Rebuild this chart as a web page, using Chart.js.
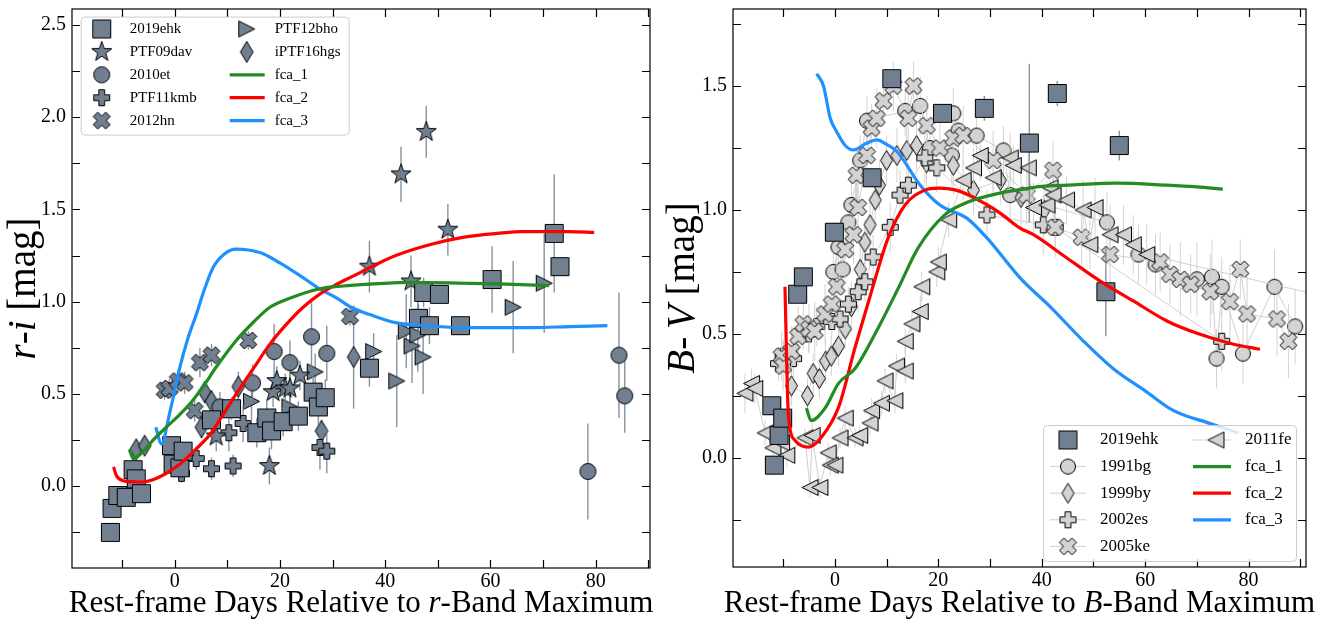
<!DOCTYPE html>
<html>
<head>
<meta charset="utf-8">
<script src="https://cdn.jsdelivr.net/npm/chart.js@4.4.1/dist/chart.umd.min.js"></script>
<style>
  html, body { margin: 0; padding: 0; background: #fff; }
  #wrap { position: relative; width: 1325px; height: 621px; }
  #wrap canvas { position: absolute; top: 0; }
  #riChart { left: 0; }
  #bvChart { left: 662px; }
</style>
</head>
<body>
<div id="wrap">
  <canvas id="riChart" width="662" height="621"></canvas>
  <canvas id="bvChart" width="663" height="621"></canvas>
</div>
<script>
// ---- r-i colour curves ----
const riDays2019ehk = [-12.2, -11.9, -10.8, -9.2, -7.9, -7.3, -6.3, -0.6, -0.3, 1.0, 1.6, 7.0, 10.8, 15.6, 17.5, 18.4, 20.6, 23.5, 26.3, 27.3, 28.6, 37.0, 46.3, 47.3, 48.4, 50.3, 54.3, 60.3, 72.1, 73.2];
const ri2019ehk = [-0.25, -0.12, -0.05, -0.06, 0.09, 0.04, -0.04, 0.22, 0.12, 0.10, 0.19, 0.36, 0.42, 0.29, 0.37, 0.30, 0.35, 0.38, 0.51, 0.43, 0.48, 0.64, 0.91, 1.05, 0.87, 1.04, 0.87, 1.12, 1.37, 1.19];
const riErr2019ehk = [0.03, 0.03, 0.03, 0.03, 0.03, 0.03, 0.03, 0.04, 0.04, 0.04, 0.04, 0.06, 0.06, 0.08, 0.1, 0.1, 0.08, 0.08, 0.1, 0.1, 0.1, 0.1, 0.08, 0.08, 0.1, 0.05, 0.05, 0.18, 0.32, 0.05];

const riDaysPTF09dav = [7.9, 18.0, 18.7, 19.4, 21.0, 21.9, 23.8, 37.0, 43.0, 44.9, 47.8, 51.9];
const riPTF09dav = [0.27, 0.11, 0.51, 0.57, 0.53, 0.53, 0.60, 1.19, 1.69, 1.11, 1.92, 1.39];
const riErrPTF09dav = [0.08, 0.1, 0.08, 0.08, 0.08, 0.08, 0.08, 0.14, 0.15, 0.14, 0.14, 0.14];

const riDays2010et = [8.6, 14.8, 18.9, 21.9, 26.0, 28.9, 78.5, 84.4, 85.5];
const ri2010et = [0.43, 0.56, 0.73, 0.67, 0.81, 0.72, 0.08, 0.71, 0.49];
const riErr2010et = [0.08, 0.1, 0.15, 0.12, 0.2, 0.15, 0.26, 0.34, 0.2];

const riDaysPTF11kmb = [1.3, 4.1, 7.0, 10.3, 11.1, 13.0, 27.6, 28.9];
const riPTF11kmb = [0.07, 0.15, 0.095, 0.29, 0.11, 0.34, 0.21, 0.19];
const riErrPTF11kmb = [0.05, 0.06, 0.06, 0.1, 0.06, 0.1, 0.12, 0.12];

const riDays2012hn = [-1.9, -1.0, 0.6, 1.9, 3.8, 4.8, 7.0, 14.0, 33.3];
const ri2012hn = [0.52, 0.53, 0.57, 0.56, 0.41, 0.67, 0.71, 0.79, 0.92];
const riErr2012hn = [0.05, 0.05, 0.06, 0.06, 0.06, 0.08, 0.06, 0.05, 0.05];

const riDaysPTF12bho = [14.6, 21.9, 26.7, 37.8, 42.2, 44.0, 45.1, 46.2, 47.2, 64.3, 70.2];
const riPTF12bho = [0.46, 0.43, 0.62, 0.73, 0.57, 0.84, 0.76, 0.82, 0.70, 0.97, 1.10];
const riErrPTF12bho = [0.1, 0.1, 0.1, 0.1, 0.25, 0.2, 0.2, 0.2, 0.2, 0.25, 0.27];

const riDaysIPTF16hgs = [-7.3, -5.7, 5.1, 5.7, 7.0, 12.1, 27.9, 34.0];
const riIPTF16hgs = [0.20, 0.22, 0.32, 0.51, 0.46, 0.54, 0.30, 0.70];
const riErrIPTF16hgs = [0.03, 0.03, 0.06, 0.06, 0.06, 0.08, 0.06, 0.28];

const riFca1Days = [-8.6, -7.9, -6.3, -4.1, -1.6, 1.0, 3.0, 5.4, 8.0, 11.7, 15.0, 18.1, 22.0, 27.6, 32.0, 37.1, 45.0, 55.0, 63.0, 71.1];
const riFca1 = [0.20, 0.15, 0.18, 0.25, 0.32, 0.39, 0.45, 0.54, 0.65, 0.79, 0.89, 0.97, 1.02, 1.07, 1.085, 1.095, 1.105, 1.10, 1.095, 1.087];
const riFca2Days = [-11.6, -11.1, -9.8, -8.0, -6.0, -2.9, 1.0, 4.0, 6.7, 9.0, 11.7, 15.0, 18.1, 21.0, 24.4, 27.5, 30.8, 34.0, 37.1, 42.0, 48.6, 55.0, 61.3, 66.0, 70.8, 75.0, 79.7];
const riFca2 = [0.105, 0.06, 0.03, 0.025, 0.023, 0.05, 0.12, 0.20, 0.28, 0.38, 0.50, 0.64, 0.77, 0.87, 0.97, 1.04, 1.095, 1.14, 1.185, 1.25, 1.31, 1.35, 1.37, 1.38, 1.38, 1.38, 1.375];
const riFca3Days = [-3.6, -2.5, -1.0, 1.0, 2.5, 4.1, 5.7, 7.3, 9.5, 11.7, 14.0, 16.8, 20.0, 24.4, 27.5, 30.8, 33.5, 37.1, 42.2, 48.0, 54.9, 61.0, 67.6, 75.0, 82.2];
const riFca3 = [0.32, 0.23, 0.39, 0.645, 0.80, 0.93, 1.07, 1.185, 1.26, 1.285, 1.28, 1.26, 1.21, 1.13, 1.07, 1.02, 0.97, 0.93, 0.885, 0.87, 0.86, 0.86, 0.86, 0.865, 0.87];

// ---- B-V colour curves ----
const bvDays2019ehk = [-12.2, -11.7, -10.8, -10.1, -7.2, -6.1, -0.1, 7.2, 11.0, 20.8, 28.9, 37.6, 43.0, 52.4, 55.0];
const bv2019ehk = [0.21, -0.03, 0.09, 0.16, 0.66, 0.73, 0.91, 1.13, 1.53, 1.39, 1.41, 1.27, 1.47, 0.67, 1.26];
const bvErr2019ehk = [0.02, 0.02, 0.02, 0.02, 0.02, 0.02, 0.02, 0.03, 0.03, 0.03, 0.05, 0.32, 0.05, 0.18, 0.06];

const bvDays1991bg = [-0.3, 0.7, 1.5, 2.6, 3.2, 4.9, 6.2, 13.6, 16.5, 18.4, 22.6, 22.9, 23.9, 27.4, 32.6, 33.9, 52.6, 58.7, 62.0, 70.0, 72.9, 73.8, 74.8, 78.9, 85.0, 89.0];
const bv1991bg = [0.75, 0.85, 0.76, 0.95, 1.02, 1.20, 1.36, 1.40, 1.42, 1.25, 1.22, 1.39, 1.32, 1.30, 1.24, 1.06, 0.95, 0.82, 0.78, 0.72, 0.73, 0.40, 0.69, 0.42, 0.69, 0.53];
const bvErr1991bg = [0.1, 0.1, 0.1, 0.1, 0.12, 0.1, 0.1, 0.1, 0.12, 0.1, 0.12, 0.1, 0.1, 0.1, 0.1, 0.1, 0.12, 0.12, 0.12, 0.15, 0.15, 0.12, 0.12, 0.12, 0.15, 0.15];

const bvDays1999by = [-8.4, -5.3, -4.2, -3.0, -1.8, -0.7, 0.7, 2.0, 3.2, 4.9, 5.8, 6.8, 7.8, 8.6, 10.0, 12.0, 13.9, 15.8, 17.7, 22.9, 26.8, 32.0, 36.0, 40.5];
const bv1999by = [0.29, 0.25, 0.34, 0.32, 0.39, 0.41, 0.45, 0.52, 0.61, 0.76, 0.87, 0.94, 1.04, 1.10, 1.20, 1.22, 1.24, 1.26, 1.19, 1.18, 1.08, 1.12, 1.05, 1.00];
const bvErr1999by = [0.08, 0.07, 0.08, 0.08, 0.09, 0.08, 0.08, 0.08, 0.1, 0.1, 0.09, 0.1, 0.1, 0.1, 0.1, 0.11, 0.1, 0.1, 0.1, 0.12, 0.1, 0.1, 0.12, 0.1];

const bvDays2002es = [-10.9, -10.0, -8.0, -5.1, -3.5, -0.6, 1.0, 2.6, 4.5, 5.8, 7.4, 10.7, 12.6, 14.2, 17.4, 19.7, 29.4, 40.3, 42.6, 74.8];
const bv2002es = [0.38, 0.41, 0.40, 0.50, 0.53, 0.55, 0.56, 0.62, 0.67, 0.71, 0.81, 0.93, 1.06, 1.10, 1.21, 1.17, 0.98, 0.94, 0.93, 0.47];
const bvErr2002es = [0.07, 0.07, 0.08, 0.07, 0.08, 0.07, 0.08, 0.07, 0.08, 0.08, 0.09, 0.1, 0.1, 0.09, 0.1, 0.1, 0.1, 0.12, 0.12, 0.12];

const bvDays2005ke = [-10.3, -10.0, -8.4, -7.1, -6.1, -5.0, -3.9, -1.9, -0.6, 0.35, 2.0, 3.6, 4.2, 4.5, 6.2, 7.1, 8.1, 9.4, 11.3, 14.2, 15.2, 17.8, 20.3, 22.9, 24.8, 30.6, 37.1, 42.2, 42.6, 47.7, 53.2, 62.9, 64.8, 66.8, 68.8, 72.6, 76.4, 78.4, 79.7, 85.5, 87.7];
const bv2005ke = [0.41, 0.37, 0.43, 0.49, 0.54, 0.52, 0.51, 0.58, 0.62, 0.69, 0.84, 0.90, 1.14, 1.01, 1.22, 1.33, 1.37, 1.44, 1.50, 1.37, 1.50, 1.34, 1.25, 1.29, 1.30, 1.20, 1.06, 1.16, 0.93, 0.89, 0.82, 0.79, 0.74, 0.72, 0.70, 0.67, 0.63, 0.76, 0.58, 0.56, 0.47];
const bvErr2005ke = [0.1, 0.1, 0.1, 0.12, 0.1, 0.1, 0.12, 0.12, 0.1, 0.12, 0.12, 0.12, 0.1, 0.12, 0.12, 0.1, 0.12, 0.1, 0.1, 0.12, 0.1, 0.12, 0.12, 0.1, 0.12, 0.12, 0.12, 0.12, 0.1, 0.12, 0.12, 0.12, 0.12, 0.15, 0.12, 0.15, 0.15, 0.12, 0.15, 0.15, 0.15];

const bvDays2011fe = [-17.4, -16.1, -15.5, -13.5, -12.0, -10.3, -9.3, -5.8, -4.8, -4.4, -2.9, -1.3, -0.9, 0.0, 1.0, 2.0, 3.9, 4.8, 6.8, 7.1, 9.0, 9.7, 11.6, 11.9, 13.6, 13.6, 14.9, 16.5, 16.8, 19.7, 20.0, 22.0, 24.8, 26.8, 28.1, 30.6, 33.9, 34.5, 37.4, 38.4, 41.0, 41.6, 42.2, 44.8, 48.0, 49.3, 50.3, 53.2, 55.8, 57.7, 60.3, 105.0];
const bv2011fe = [0.26, 0.30, 0.28, 0.10, 0.04, 0.06, 0.01, 0.08, -0.12, 0.09, -0.12, 0.02, -0.03, -0.03, 0.08, 0.16, 0.08, 0.09, 0.14, 0.19, 0.22, 0.31, 0.23, 0.37, 0.35, 0.47, 0.54, 0.59, 0.69, 0.75, 0.79, 0.96, 1.12, 1.17, 1.22, 1.13, 1.21, 1.18, 1.17, 1.01, 1.02, 1.09, 1.06, 1.04, 1.00, 0.86, 1.01, 0.90, 0.90, 0.86, 0.82, 0.60];
const bvErr2011fe = [0.08, 0.06, 0.06, 0.05, 0.05, 0.05, 0.05, 0.04, 0.04, 0.05, 0.04, 0.04, 0.04, 0.04, 0.04, 0.05, 0.04, 0.04, 0.05, 0.05, 0.05, 0.05, 0.05, 0.05, 0.05, 0.05, 0.06, 0.06, 0.06, 0.06, 0.06, 0.07, 0.08, 0.08, 0.1, 0.08, 0.1, 0.08, 0.1, 0.1, 0.1, 0.1, 0.1, 0.1, 0.12, 0.1, 0.12, 0.12, 0.12, 0.12, 0.12, 0.1];

const bvFca1Days = [-5.5, -4.6, -1.9, 0.7, 3.9, 8.4, 12.3, 16.1, 21.3, 25.5, 31.9, 35.8, 40.0, 45.0, 54.5, 64.2, 70.0, 75.0];
const bvFca1 = [0.20, 0.15, 0.20, 0.30, 0.36, 0.525, 0.686, 0.847, 0.981, 1.03, 1.068, 1.082, 1.095, 1.10, 1.108, 1.10, 1.093, 1.084];
const bvFca2Days = [-9.65, -9.0, -7.7, -5.1, -2.6, 0.7, 3.9, 7.1, 10.3, 13.6, 17.4, 20.0, 24.2, 29.4, 31.9, 35.8, 38.4, 44.8, 51.3, 57.7, 64.2, 70.6, 77.1, 82.2];
const bvFca2 = [0.69, 0.177, 0.07, 0.043, 0.083, 0.203, 0.445, 0.673, 0.887, 1.021, 1.08, 1.088, 1.075, 1.021, 0.988, 0.927, 0.90, 0.807, 0.713, 0.633, 0.552, 0.498, 0.458, 0.438];
const bvFca3Days = [-3.5, -2.2, -0.9, 0.35, 2.0, 3.6, 6.2, 8.1, 10.0, 12.0, 16.5, 20.3, 25.5, 29.4, 35.8, 41.8, 48.0, 53.9, 60.0, 65.5, 72.6, 78.0];
const bvFca3 = [1.55, 1.50, 1.37, 1.316, 1.26, 1.242, 1.27, 1.283, 1.265, 1.236, 1.10, 1.02, 0.967, 0.887, 0.726, 0.606, 0.472, 0.358, 0.27, 0.19, 0.138, 0.10];

// axis ticks (every tick gets a mark, only some get a label)
const dayTicks = [-10, 0, 10, 20, 30, 40, 50, 60, 70, 80, 90];
const riTicks = [-0.25, 0, 0.25, 0.5, 0.75, 1, 1.25, 1.5, 1.75, 2, 2.25, 2.5];
const bvTicks = [-0.25, 0, 0.25, 0.5, 0.75, 1, 1.25, 1.5, 1.75];

const SERIF = '"Liberation Serif", "Times New Roman", serif';
Chart.defaults.font.family = SERIF;
Chart.defaults.color = '#000';

const SLATE = '#708090';
const LIGHT = '#d3d3d3';

// marker sprites used as pointStyle
function makeMarker(shape, size, fill) {
  const r = size / 2;
  const c = document.createElement('canvas');
  c.width = c.height = Math.ceil(size + 5);
  const g = c.getContext('2d');
  const m = c.width / 2;
  let pts = null;
  if (shape === 'square') pts = [[-r, -r], [r, -r], [r, r], [-r, r]];
  else if (shape === 'triRight') pts = [[r, 0], [-r, -r], [-r, r]];
  else if (shape === 'triLeft') pts = [[-r, 0], [r, -r], [r, r]];
  else if (shape === 'thinDiamond') pts = [[0, -r], [r * 0.6, 0], [0, r], [-r * 0.6, 0]];
  else if (shape === 'star') {
    pts = [];
    for (let i = 0; i < 10; i++) {
      const a = -Math.PI / 2 + i * Math.PI / 5;
      const rr = i % 2 ? r * 0.4 : r;
      pts.push([rr * Math.cos(a), rr * Math.sin(a)]);
    }
  } else if (shape === 'plus' || shape === 'cross') {
    const t = r * 0.36;
    pts = [[-t, -r], [t, -r], [t, -t], [r, -t], [r, t], [t, t], [t, r], [-t, r], [-t, t], [-r, t], [-r, -t], [-t, -t]];
    if (shape === 'cross') {
      const k = 1.1 * Math.SQRT1_2;
      pts = pts.map(([x, y]) => [(x - y) * k, (x + y) * k]);
    }
  }
  g.beginPath();
  if (shape === 'circle') g.arc(m, m, r, 0, Math.PI * 2);
  else pts.forEach(([x, y], i) => (i ? g.lineTo(m + x, m + y) : g.moveTo(m + x, m + y)));
  g.closePath();
  g.fillStyle = fill;
  g.fill();
  g.lineWidth = 1;
  g.strokeStyle = '#000';
  g.stroke();
  return c;
}

function pts(xs, ys) {
  return xs.map((x, i) => ({ x, y: ys[i] }));
}

function markerSet(label, xs, ys, errs, sprite, slot, extra) {
  return Object.assign({
    label, data: pts(xs, ys), errors: errs, errColor: 'rgba(112,128,144,0.85)', errWidth: 1.4,
    pointStyle: sprite, pointRadius: 8, pointHoverRadius: 8, showLine: false, slot, order: 2
  }, extra || {});
}

function compSet(label, xs, ys, errs, sprite, slot, order) {
  return {
    label, data: pts(xs, ys), errors: errs, errColor: 'rgba(200,200,200,0.8)', errWidth: 1,
    pointStyle: sprite, pointRadius: 8, pointHoverRadius: 8,
    showLine: true, borderColor: '#cfcfcf', borderWidth: 1, tension: 0, slot, order
  };
}

function curveSet(label, xs, ys, color, slot) {
  return {
    label, data: pts(xs, ys), showLine: true, borderColor: color, borderWidth: 3.2,
    pointRadius: 0, pointHoverRadius: 0, cubicInterpolationMode: 'monotone', slot, order: 0
  };
}

// vertical error bars drawn under each dataset's markers
const errorBars = {
  id: 'errorBars',
  beforeDatasetDraw(chart, args) {
    const ds = chart.data.datasets[args.index];
    if (!ds.errors) return;
    const { ctx, chartArea: a, scales: { x, y } } = chart;
    ctx.save();
    ctx.beginPath();
    ctx.rect(a.left, a.top, a.width, a.height);
    ctx.clip();
    ctx.strokeStyle = ds.errColor;
    ctx.lineWidth = ds.errWidth;
    ds.data.forEach((p, i) => {
      const e = ds.errors[i];
      if (!e) return;
      const px = x.getPixelForValue(p.x);
      ctx.beginPath();
      ctx.moveTo(px, y.getPixelForValue(p.y - e));
      ctx.lineTo(px, y.getPixelForValue(p.y + e));
      ctx.stroke();
    });
    ctx.restore();
  }
};

// closed frame with inward tick marks on all four sides
const frameTicks = {
  id: 'frameTicks',
  afterDatasetsDraw(chart) {
    const { ctx, chartArea: a, scales: { x, y } } = chart;
    const L = 8;
    ctx.save();
    ctx.strokeStyle = '#000';
    ctx.lineWidth = 1.2;
    ctx.beginPath();
    x.ticks.forEach(t => {
      const px = Math.round(x.getPixelForValue(t.value)) + 0.5;
      ctx.moveTo(px, a.bottom); ctx.lineTo(px, a.bottom - L);
      ctx.moveTo(px, a.top); ctx.lineTo(px, a.top + L);
    });
    y.ticks.forEach(t => {
      const py = Math.round(y.getPixelForValue(t.value)) + 0.5;
      ctx.moveTo(a.left, py); ctx.lineTo(a.left + L, py);
      ctx.moveTo(a.right, py); ctx.lineTo(a.right - L, py);
    });
    ctx.stroke();
    ctx.strokeRect(a.left, a.top, a.width, a.height);
    ctx.restore();
  }
};

function drawRich(ctx, parts, size, cx, cy, rot) {
  ctx.save();
  ctx.translate(cx, cy);
  ctx.rotate(rot);
  const fonts = parts.map(p => (p[1] ? 'italic ' : '') + size + 'px ' + SERIF);
  let total = 0;
  const widths = parts.map((p, i) => {
    ctx.font = fonts[i];
    const w = ctx.measureText(p[0]).width;
    total += w;
    return w;
  });
  let x = -total / 2;
  ctx.textBaseline = 'middle';
  ctx.textAlign = 'left';
  ctx.fillStyle = '#000';
  parts.forEach((p, i) => {
    ctx.font = fonts[i];
    ctx.fillText(p[0], x, 0);
    x += widths[i];
  });
  ctx.restore();
}

function axisTitles(cfg) {
  return {
    id: 'axisTitles',
    afterDraw(chart) {
      const { ctx, chartArea: a } = chart;
      drawRich(ctx, cfg.x, 31, (a.left + a.right) / 2, 604, 0);
      drawRich(ctx, cfg.y, 39, cfg.yX, (a.top + a.bottom) / 2, -Math.PI / 2);
    }
  };
}

// framed two-column legend placed inside the plot area
function boxLegend(cfg) {
  return {
    id: 'boxLegend',
    afterDraw(chart) {
      const { ctx, chartArea: a } = chart;
      const bx = a.left + cfg.x, by = a.top + cfg.y;
      ctx.save();
      ctx.beginPath();
      if (ctx.roundRect) ctx.roundRect(bx + 0.5, by + 0.5, cfg.w, cfg.h, 4);
      else ctx.rect(bx + 0.5, by + 0.5, cfg.w, cfg.h);
      ctx.fillStyle = 'rgba(255,255,255,0.8)';
      ctx.fill();
      ctx.strokeStyle = '#cccccc';
      ctx.lineWidth = 1;
      ctx.stroke();
      ctx.font = cfg.font + 'px ' + SERIF;
      ctx.textBaseline = 'middle';
      chart.data.datasets.forEach(ds => {
        if (!ds.slot) return;
        const c = cfg.cols[ds.slot[0]];
        const yy = by + cfg.row0 + ds.slot[1] * cfg.rowGap;
        if (ds.showLine) {
          ctx.beginPath();
          ctx.moveTo(bx + c.line[0], yy);
          ctx.lineTo(bx + c.line[1], yy);
          ctx.strokeStyle = ds.borderColor;
          ctx.lineWidth = ds.borderWidth;
          ctx.stroke();
        }
        if (ds.pointStyle instanceof HTMLCanvasElement) {
          const s = ds.pointStyle;
          ctx.drawImage(s, bx + c.mark - s.width / 2, yy - s.height / 2);
        }
        ctx.fillStyle = '#000';
        ctx.fillText(ds.label, bx + c.text, yy);
      });
      ctx.restore();
    }
  };
}

function axes(xMin, xMax, yMin, yMax, yTicks, yWidth, xHeight) {
  const tickFont = { family: SERIF, size: 20 };
  return {
    x: {
      type: 'linear', min: xMin, max: xMax,
      grid: { display: false, drawTicks: false }, border: { display: false },
      afterBuildTicks: s => { s.ticks = dayTicks.map(v => ({ value: v })); },
      afterFit: s => { s.height = xHeight; s.paddingLeft = 0; s.paddingRight = 0; },
      ticks: {
        autoSkip: false, maxRotation: 0, padding: 2, color: '#000', font: tickFont,
        callback: v => (v % 20 === 0 ? String(v) : '')
      }
    },
    y: {
      type: 'linear', min: yMin, max: yMax,
      grid: { display: false, drawTicks: false }, border: { display: false },
      afterBuildTicks: s => { s.ticks = yTicks.map(v => ({ value: v })); },
      afterFit: s => { s.width = yWidth; s.paddingTop = 0; s.paddingBottom = 0; },
      ticks: {
        autoSkip: false, padding: 6, color: '#000', font: tickFont,
        callback: v => (Math.abs(v * 2 - Math.round(v * 2)) < 1e-9 ? v.toFixed(1) : '')
      }
    }
  };
}

// ---------- left panel: r-i ----------
new Chart(document.getElementById('riChart'), {
  type: 'scatter',
  data: {
    datasets: [
      curveSet('fca_1', riFca1Days, riFca1, '#228b22', [1, 2]),
      curveSet('fca_2', riFca2Days, riFca2, '#ff0000', [1, 3]),
      curveSet('fca_3', riFca3Days, riFca3, '#1e90ff', [1, 4]),
      markerSet('2019ehk', riDays2019ehk, ri2019ehk, riErr2019ehk, makeMarker('square', 18, SLATE), [0, 0], { order: 1 }),
      markerSet('PTF09dav', riDaysPTF09dav, riPTF09dav, riErrPTF09dav, makeMarker('star', 21, SLATE), [0, 1]),
      markerSet('2010et', riDays2010et, ri2010et, riErr2010et, makeMarker('circle', 16, SLATE), [0, 2]),
      markerSet('PTF11kmb', riDaysPTF11kmb, riPTF11kmb, riErrPTF11kmb, makeMarker('plus', 16, SLATE), [0, 3]),
      markerSet('2012hn', riDays2012hn, ri2012hn, riErr2012hn, makeMarker('cross', 16, SLATE), [0, 4]),
      markerSet('PTF12bho', riDaysPTF12bho, riPTF12bho, riErrPTF12bho, makeMarker('triRight', 16, SLATE), [1, 0]),
      markerSet('iPTF16hgs', riDaysIPTF16hgs, riIPTF16hgs, riErrIPTF16hgs, makeMarker('thinDiamond', 21, SLATE), [1, 1])
    ]
  },
  options: {
    responsive: false, animation: false, events: [],
    layout: { padding: { top: 7, right: 12, left: 0, bottom: 0 } },
    plugins: { legend: { display: false }, tooltip: { enabled: false } },
    scales: axes(-19.5, 90.3, -0.443, 2.586, riTicks, 72, 53)
  },
  plugins: [
    errorBars, frameTicks,
    axisTitles({ x: [['Rest-frame Days Relative to ', false], ['r', true], ['-Band Maximum', false]],
                 y: [['r', true], ['-', false], ['i', true], [' [mag]', false]], yX: 25 }),
    boxLegend({ x: 8.7, y: 7.6, w: 268, h: 118, row0: 12.4, rowGap: 22.9, font: 15,
                cols: [{ mark: 21, text: 49, line: [0, 0] }, { mark: 166, text: 194, line: [149, 184] }] })
  ]
});

// ---------- right panel: B-V ----------
new Chart(document.getElementById('bvChart'), {
  type: 'scatter',
  data: {
    datasets: [
      curveSet('fca_1', bvFca1Days, bvFca1, '#228b22', [1, 1]),
      curveSet('fca_2', bvFca2Days, bvFca2, '#ff0000', [1, 2]),
      curveSet('fca_3', bvFca3Days, bvFca3, '#1e90ff', [1, 3]),
      markerSet('2019ehk', bvDays2019ehk, bv2019ehk, bvErr2019ehk, makeMarker('square', 18, SLATE), [0, 0], { order: 1 }),
      compSet('1991bg', bvDays1991bg, bv1991bg, bvErr1991bg, makeMarker('circle', 15, LIGHT), [0, 1], 6),
      compSet('1999by', bvDays1999by, bv1999by, bvErr1999by, makeMarker('thinDiamond', 20, LIGHT), [0, 2], 5),
      compSet('2002es', bvDays2002es, bv2002es, bvErr2002es, makeMarker('plus', 16, LIGHT), [0, 3], 4),
      compSet('2005ke', bvDays2005ke, bv2005ke, bvErr2005ke, makeMarker('cross', 16, LIGHT), [0, 4], 3),
      compSet('2011fe', bvDays2011fe, bv2011fe, bvErr2011fe, makeMarker('triLeft', 16, LIGHT), [1, 0], 2)
    ]
  },
  options: {
    responsive: false, animation: false, events: [],
    layout: { padding: { top: 7, right: 19, left: 0, bottom: 0 } },
    plugins: { legend: { display: false }, tooltip: { enabled: false } },
    scales: axes(-19.7, 91.1, -0.441, 1.811, bvTicks, 71, 54)
  },
  plugins: [
    errorBars, frameTicks,
    axisTitles({ x: [['Rest-frame Days Relative to ', false], ['B', true], ['-Band Maximum', false]],
                 y: [['B', true], ['-\u2009', false], ['V', true], [' [mag]', false]], yX: 22 }),
    boxLegend({ x: 310, y: 416, w: 253, h: 136, row0: 15, rowGap: 26.6, font: 17,
                cols: [{ mark: 25, text: 57, line: [7, 43] }, { mark: 173, text: 202, line: [150, 188] }] })
  ]
});
</script>
</body>
</html>
